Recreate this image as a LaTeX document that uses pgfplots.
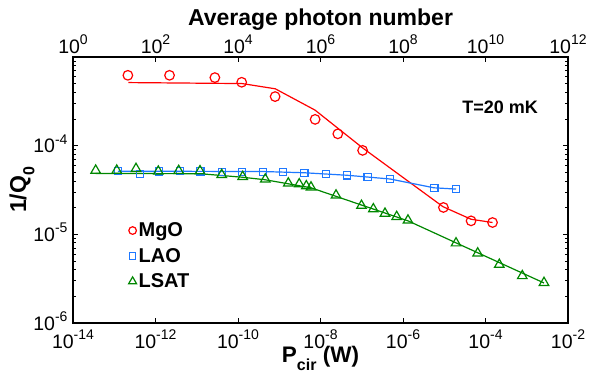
\documentclass[border=0pt]{standalone}
\usepackage{pgfplots}
\pgfplotsset{compat=1.18}
\usepackage{pgfplotstable}
\usepackage{fontspec}
\setmainfont{Liberation Sans}
\definecolor{cmg}{RGB}{255,0,0}
\definecolor{clao}{RGB}{30,120,255}
\definecolor{clsat}{RGB}{0,135,0}
\newcommand\tl[1]{10\raisebox{0.44em}{\fontsize{14}{14}\selectfont #1}}

\pgfplotstableread{
x y
2.14e-13 6.22e-4
2.19e-12 6.22e-4
2.75e-11 5.86e-4
1.23e-10 5.19e-4
7.94e-10 3.58e-4
7.41e-9 1.98e-4
2.63e-8 1.36e-4
1.05e-7 8.85e-5
9.55e-6 2.01e-5
4.47e-5 1.42e-5
1.48e-4 1.36e-5
}\mgopts
\pgfplotstableread{
x y
2.19e-13 5.15e-4
1.25e-10 5.02e-4
8.02e-10 4.38e-4
7.36e-9 2.52e-4
1.07e-7 9.38e-5
9.33e-6 2.05e-5
4.47e-5 1.48e-5
1.48e-4 1.36e-5
}\mgofit
\pgfplotstableread{
x y
1.23e-13 5.18e-5
4.21e-13 4.79e-5
1.22e-12 5.13e-5
3.93e-12 5.18e-5
1.23e-11 5.12e-5
4.03e-11 5.05e-5
1.27e-10 5.05e-5
4.10e-10 5.08e-5
1.25e-9 5.05e-5
4.05e-9 4.92e-5
1.36e-8 4.79e-5
4.32e-8 4.61e-5
1.39e-7 4.43e-5
4.84e-7 4.21e-5
5.74e-6 3.31e-5
1.93e-5 3.24e-5
}\laopts
\pgfplotstableread{
x y
1.23e-13 5.16e-5
4.10e-10 5.11e-5
4.05e-9 4.95e-5
4.39e-8 4.64e-5
4.84e-7 4.21e-5
5.65e-6 3.35e-5
1.93e-5 3.24e-5
}\laofit
\pgfplotstableread{
x y
3.55e-14 5.26e-5
1.15e-13 5.26e-5
3.37e-13 5.50e-5
1.17e-12 5.13e-5
3.65e-12 5.22e-5
1.20e-11 5.18e-5
4.03e-11 4.70e-5
1.30e-10 4.47e-5
4.59e-10 4.18e-5
1.66e-9 3.77e-5
3.05e-9 3.69e-5
4.53e-9 3.51e-5
5.89e-9 3.40e-5
2.38e-8 2.76e-5
9.86e-8 2.11e-5
1.91e-7 1.93e-5
3.66e-7 1.72e-5
7.03e-7 1.58e-5
1.32e-6 1.44e-5
1.93e-5 7.96e-6
6.47e-5 6.13e-6
2.16e-4 4.56e-6
7.80e-4 3.40e-6
2.62e-3 2.85e-6
}\lsatpts
\pgfplotstableread{
x y
3.55e-14 4.86e-5
1.20e-11 4.83e-5
1.25e-10 4.41e-5
4.52e-10 4.13e-5
5.89e-9 3.35e-5
9.59e-8 2.15e-5
1.32e-6 1.42e-5
1.93e-5 8.02e-6
2.62e-3 2.83e-6
}\lsatfit

\begin{document}
\begin{tikzpicture}
\begin{axis}[
  name=main,
  scale only axis, width=495pt, height=266pt,
  xmode=log, ymode=log,
  xmin=1e-14, xmax=1e-2, ymin=1e-6, ymax=1e-3,
  xtick={1e-14,1e-12,1e-10,1e-8,1e-6,1e-4,1e-2},
  xticklabels={\tl{-14},\tl{-12},\tl{-10},\tl{-8},\tl{-6},\tl{-4},\tl{-2}},
  xminorticks=false,
  xtick pos=left,
  ytick={1e-6,1e-5,1e-4,1e-3},
  yticklabels={\tl{-6},\tl{-5},\tl{-4},{}},
  ytick pos=both,
  tick align=inside,
  major tick length=5pt, minor tick length=3pt,
  axis line style={line width=1.3pt},
  every tick/.style={black, line width=0.9pt},
  tick label style={font=\fontsize{19.5}{19.5}\selectfont},
  xticklabel style={anchor=base, yshift=-25.5pt},
  yticklabel style={anchor=base east, yshift=-7pt, xshift=-2pt},
  xlabel={\bfseries P\raisebox{-0.35em}{\fontsize{16}{16}\selectfont cir} (W)},
  xlabel style={font=\fontsize{22.5}{22.5}\selectfont, at={(axis description cs:0.5,-0.148)}, anchor=base},
  ylabel={\bfseries 1/Q\raisebox{-0.35em}{\fontsize{16}{16}\selectfont 0}},
  ylabel style={font=\fontsize{23}{23}\selectfont, at={(axis description cs:-0.103,0.5)}, anchor=center},
  legend style={draw=none, fill=none, at={(0.112,0.385)}, anchor=north west,
    font=\bfseries\fontsize{20}{20}\selectfont, row sep=6pt, inner sep=0pt},
  legend cell align=left,
]
\addplot[cmg, line width=1.2pt, forget plot] table {\mgofit};
\addplot[clao, line width=1.2pt, forget plot] table {\laofit};
\addplot[clsat, line width=1.2pt, forget plot] table {\lsatfit};
\addplot[cmg, only marks, mark=o, mark size=4.8pt, line width=1.2pt, forget plot] table {\mgopts};
\addplot[clao, only marks, mark=square, mark size=3.6pt, line width=1.2pt, forget plot] table {\laopts};
\addplot[clsat, only marks, mark=triangle, mark size=5.5pt, line width=1.2pt, forget plot] table {\lsatpts};
\addlegendimage{cmg, only marks, mark=o, mark size=3.8pt, line width=1.2pt}
\addlegendentry{MgO}
\addlegendimage{clao, only marks, mark=square, mark size=3.2pt, line width=1.2pt}
\addlegendentry{LAO}
\addlegendimage{clsat, only marks, mark=triangle, mark size=4.6pt, line width=1.2pt}
\addlegendentry{LSAT}
\node[font=\bfseries\fontsize{18}{18}\selectfont] at (rel axis cs:0.863,0.812) {T=20 mK};
\end{axis}
\begin{axis}[
  scale only axis, width=495pt, height=266pt,
  xmode=log, xmin=1, xmax=1e12, ymin=0, ymax=1,
  xtick={1,1e2,1e4,1e6,1e8,1e10,1e12},
  xticklabels={\tl{0},\tl{2},\tl{4},\tl{6},\tl{8},\tl{10},\tl{12}},
  xminorticks=false,
  xtick pos=right, xticklabel pos=right,
  ytick=\empty,
  tick align=inside,
  major tick length=5pt,
  axis line style={line width=1.3pt},
  every tick/.style={black, line width=0.9pt},
  tick label style={font=\fontsize{19.5}{19.5}\selectfont},
  xticklabel style={anchor=base, yshift=3.5pt},
  xlabel={\bfseries Average photon number},
  xlabel style={font=\fontsize{23}{23}\selectfont, at={(axis description cs:0.5,1.117)}, anchor=base},
]
\addplot[draw=none] coordinates {(1,0.5) (1e12,0.5)};
\end{axis}
\pgfresetboundingbox
\path[use as bounding box] ([shift={(-73pt,-53pt)}]main.south west) rectangle ++(589pt,376pt);
\end{tikzpicture}
\end{document}
